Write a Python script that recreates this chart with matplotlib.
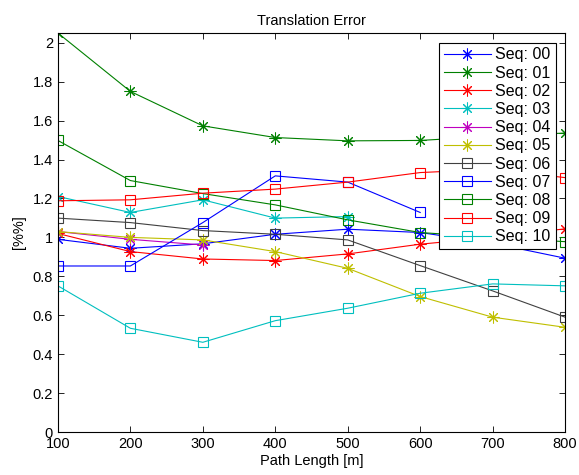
import numpy as np
import matplotlib
matplotlib.use('Agg')
import matplotlib.pyplot as plt

plt.rcParams['font.family'] = ['Liberation Sans', 'DejaVu Sans']

# path lengths [m]
lengths = [100, 200, 300, 400, 500, 600, 700, 800]

# translation error [%] per sequence
seq00 = [0.99, 0.944, 0.967, 1.016, 1.042, 1.025, 0.97, 0.893]
seq01 = [2.05, 1.75, 1.573, 1.513, 1.496, 1.498, 1.52, 1.536]
seq02 = [1.02, 0.927, 0.889, 0.881, 0.915, 0.965, 1.0, 1.044]
seq03 = [1.21, 1.128, 1.193, 1.099, 1.107]
seq04 = [1.03, 0.99, 0.961]
seq05 = [1.03, 1.0, 0.987, 0.927, 0.841, 0.696, 0.59, 0.538]
seq06 = [1.099, 1.076, 1.035, 1.016, 0.987, 0.855, 0.725, 0.59]
seq07 = [0.853, 0.853, 1.076, 1.316, 1.284, 1.128]
seq08 = [1.498, 1.292, 1.225, 1.167, 1.09, 1.025, 1.0, 0.978]
seq09 = [1.188, 1.193, 1.227, 1.248, 1.284, 1.333, 1.35, 1.307]
seq10 = [0.751, 0.533, 0.461, 0.572, 0.636, 0.713, 0.761, 0.751]

series = [seq00, seq01, seq02, seq03, seq04, seq05,
          seq06, seq07, seq08, seq09, seq10]
labels = ['Seq: %02d' % i for i in range(11)]

# MATLAB-like colour cycle
colors = ['#0000ff', '#008000', '#ff0000', '#00bfbf', '#bf00bf', '#bfbf00',
          '#404040', '#0000ff', '#008000', '#ff0000', '#00bfbf']
asterisk = (8, 2, 0)   # matlab style '*': + and x on top of each other
markers = [asterisk] * 6 + ['s'] * 5

fig = plt.figure(figsize=(5.79, 4.75), dpi=100)
ax = fig.add_axes([0.1, 0.0905, 0.876, 0.84])

for vals, lab, c, m in zip(series, labels, colors, markers):
    x = lengths[:len(vals)]
    if m == 's':
        ax.plot(x, vals, color=c, marker=m, markersize=7, mfc='none',
                mec=c, mew=0.8, lw=0.8, label=lab)
    else:
        ax.plot(x, vals, color=c, marker=m, markersize=8.5, mew=0.75,
                lw=0.8, label=lab)

ax.set_xlim(100, 800)
ax.set_ylim(0, 2.05)
ax.set_xticks(lengths)
ax.set_yticks(np.arange(0, 2.01, 0.2))
ax.set_yticklabels(['0', '0.2', '0.4', '0.6', '0.8', '1', '1.2', '1.4',
                    '1.6', '1.8', '2'])
ax.tick_params(direction='in', top=True, right=True, labelsize=10.5,
               length=4, width=0.6)
for s in ax.spines.values():
    s.set_linewidth(0.8)

ax.set_title('Translation Error', fontsize=10.5, pad=6)
ax.set_xlabel('Path Length [m]', fontsize=10.5, labelpad=2)
ax.set_ylabel('[%%]', fontsize=10.5, labelpad=5)

leg = ax.legend(loc='upper right', fontsize=11.5, frameon=True, fancybox=False,
                edgecolor='black', framealpha=1, borderaxespad=0.6,
                handlelength=2.9, labelspacing=0.2, borderpad=0.3,
                handletextpad=0.3)
leg.get_frame().set_linewidth(0.8)

plt.savefig('out.png', dpi=100)
